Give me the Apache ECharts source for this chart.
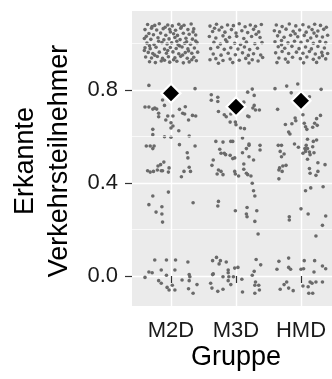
<!DOCTYPE html>
<html><head><meta charset="utf-8">
<script src="https://cdn.jsdelivr.net/npm/echarts@6/dist/echarts.min.js"></script>
<style>html,body{margin:0;padding:0;background:#fff;}#c{width:332px;height:379px;}</style>
</head><body><div id="c"></div>
<script>
const groups = ['M2D', 'M3D', 'HMD'];
const meanValues = [0.786, 0.728, 0.754];
const yTickValues = [0, 0.4, 0.8];
const yMinorValues = [0.2, 0.6, 1.0];
const xTitle = 'Gruppe';
const yTitle = 'Erkannte\nVerkehrsteilnehmer';

// [jitter offset from group centre, value]
const m2dPoints = [
[-0.36,1.082],[-0.25,1.078],[-0.18,1.085],[-0.05,1.080],[0.02,1.076],[0.12,1.083],[0.20,1.079],[0.31,1.084],
[-0.40,1.060],[-0.30,1.066],[-0.22,1.058],[-0.12,1.064],[-0.02,1.061],[0.07,1.057],[0.15,1.066],[0.26,1.060],[0.35,1.063],
[-0.34,1.043],[-0.27,1.038],[-0.16,1.045],[-0.08,1.036],[0.04,1.042],[0.10,1.035],[0.19,1.044],[0.28,1.040],[0.38,1.037],
[-0.41,1.022],[-0.31,1.018],[-0.20,1.025],[-0.11,1.016],[-0.03,1.020],[0.06,1.026],[0.14,1.017],[0.23,1.023],[0.33,1.019],
[-0.37,1.002],[-0.26,0.996],[-0.14,1.004],[-0.06,0.998],[0.01,1.003],[0.11,0.995],[0.21,1.001],[0.30,0.997],[0.40,1.004],
[-0.40,0.982],[-0.32,0.978],[-0.23,0.984],[-0.10,0.976],[-0.01,0.983],[0.08,0.979],[0.17,0.985],[0.26,0.977],[0.36,0.981],
[-0.35,0.962],[-0.28,0.957],[-0.18,0.963],[-0.07,0.958],[0.03,0.964],[0.12,0.956],[0.22,0.961],[0.32,0.958],[0.41,0.963],
[-0.39,0.942],[-0.30,0.938],[-0.21,0.944],[-0.13,0.936],[-0.04,0.943],[0.06,0.939],[0.15,0.945],[0.25,0.937],[0.35,0.941],
[-0.33,0.922],[-0.24,0.918],[-0.15,0.925],[-0.02,0.920],[0.09,0.924],[0.19,0.917],[0.28,0.921],[0.39,0.926],
[-0.29,1.073],[-0.09,1.070],[0.16,1.072],[0.34,1.050],[-0.38,1.031],[-0.01,1.050],[0.24,1.008],[-0.19,1.010],[0.13,0.990],[-0.33,0.990],
[-0.05,0.970],[0.27,0.968],[0.38,1.011],[-0.25,0.950],[0.18,0.951],[-0.10,0.928],[0.04,0.930],[0.32,0.930],[-0.41,0.970],[0.09,1.010],
[-0.34,0.820],[0.37,0.806],[-0.13,0.757],[-0.10,0.734],[-0.40,0.727],[-0.34,0.727],[-0.28,0.718],[-0.25,0.722],[-0.22,0.718],
[-0.19,0.700],[-0.19,0.685],[-0.05,0.688],[0.03,0.688],[0.13,0.717],[0.22,0.728],[0.18,0.700],[0.21,0.697],[0.33,0.691],[0.38,0.688],
[-0.08,0.671],[0.00,0.659],[0.03,0.645],[0.00,0.637],[0.27,0.671],[0.12,0.625],[-0.28,0.631],[-0.28,0.608],[-0.10,0.599],[0.00,0.597],
[0.28,0.602],[0.13,0.565],[0.37,0.559],[-0.38,0.559],[-0.32,0.559],[-0.26,0.559],[-0.28,0.548],[0.25,0.530],[0.26,0.508],
[-0.11,0.490],[-0.16,0.479],[-0.20,0.473],[-0.03,0.465],[-0.04,0.447],[-0.36,0.453],[-0.32,0.447],[-0.27,0.450],[-0.21,0.456],
[-0.15,0.453],[-0.13,0.453],[0.28,0.468],[0.30,0.450],[0.20,0.450],[0.16,0.427],[-0.04,0.361],[-0.28,0.344],[-0.34,0.307],
[-0.14,0.298],[-0.23,0.275],[-0.14,0.267],[-0.13,0.232],[0.34,0.315],
[-0.40,-0.006],[-0.34,0.017],[-0.29,0.014],[-0.25,0.069],[-0.19,-0.020],[-0.15,-0.031],[-0.15,0.026],[-0.07,0.069],[-0.07,0.003],
[-0.06,-0.049],[-0.03,-0.060],[0.02,-0.040],[0.06,0.026],[0.07,0.069],[0.06,-0.060],[0.17,-0.017],[0.26,0.060],[0.28,0.006],
[0.29,-0.003],[0.28,-0.020],[0.27,-0.055],[0.34,-0.074],[0.40,-0.037]
];
const m3dPoints = [
[-0.40,1.075],[-0.30,1.083],[-0.22,1.070],[-0.13,1.080],[-0.04,1.077],[0.05,1.085],[0.14,1.072],[0.22,1.080],[0.30,1.074],[0.39,1.082],
[-0.36,1.052],[-0.26,1.058],[-0.17,1.049],[-0.07,1.060],[0.09,1.055],[0.18,1.047],[0.27,1.061],[0.35,1.050],
[-0.41,1.030],[-0.31,1.024],[-0.20,1.033],[-0.10,1.027],[0.01,1.031],[0.12,1.022],[0.24,1.030],[0.37,1.026],
[-0.34,1.005],[-0.24,0.998],[-0.14,1.008],[-0.02,1.001],[0.07,0.996],[0.16,1.006],[0.29,0.999],[0.40,1.004],
[-0.39,0.978],[-0.28,0.984],[-0.18,0.975],[-0.08,0.982],[0.03,0.976],[0.13,0.985],[0.21,0.974],[0.33,0.980],
[-0.35,0.955],[-0.23,0.950],[-0.12,0.958],[-0.01,0.952],[0.10,0.960],[0.19,0.949],[0.27,0.956],[0.38,0.951],
[-0.40,0.930],[-0.31,0.935],[-0.20,0.927],[-0.09,0.933],[0.05,0.928],[0.15,0.936],[0.25,0.930],[0.34,0.925],
[-0.27,0.915],[-0.05,0.918],[0.20,0.916],[0.41,0.940],[-0.16,1.016],[0.31,1.040],[-0.33,1.066],[0.00,1.045],
[-0.38,0.780],[-0.38,0.756],[-0.28,0.769],[-0.28,0.751],[0.18,0.791],[0.25,0.804],[0.28,0.777],[0.12,0.748],[0.28,0.734],
[0.26,0.723],[0.30,0.714],[0.36,0.714],[-0.27,0.708],[-0.18,0.694],[-0.15,0.685],[-0.08,0.697],[0.18,0.688],[0.20,0.685],
[-0.09,0.662],[-0.01,0.662],[0.00,0.651],[0.07,0.637],[0.13,0.634],[0.10,0.594],[-0.31,0.579],[-0.20,0.576],[-0.08,0.579],
[-0.05,0.579],[-0.25,0.545],[-0.23,0.528],[-0.18,0.528],[-0.16,0.522],[-0.09,0.519],[-0.02,0.508],[-0.05,0.505],[0.20,0.568],
[0.20,0.562],[0.16,0.548],[0.37,0.562],[0.37,0.542],[0.10,0.530],[0.20,0.513],[0.27,0.499],[-0.35,0.499],[-0.37,0.476],
[-0.27,0.456],[-0.23,0.450],[-0.29,0.439],[-0.20,0.436],[-0.02,0.450],[-0.01,0.439],[0.04,0.430],[0.12,0.482],[0.12,0.459],
[0.16,0.442],[0.18,0.436],[0.23,0.430],[0.25,0.399],[0.27,0.367],[0.29,0.344],[-0.27,0.321],[-0.28,0.301],[-0.01,0.281],
[0.17,0.295],[0.16,0.267],[0.17,0.255],[0.32,0.281],[0.29,0.235],[0.34,0.181],
[-0.36,0.066],[-0.30,0.080],[-0.26,0.052],[-0.24,0.066],[-0.15,0.060],[-0.35,0.009],[-0.36,0.006],[-0.39,-0.031],[-0.37,-0.052],
[-0.28,-0.066],[-0.20,-0.057],[-0.20,-0.003],[-0.12,0.026],[-0.12,0.014],[-0.11,-0.003],[-0.12,-0.020],[-0.08,-0.037],[-0.02,0.034],
[0.03,0.037],[-0.04,-0.003],[0.10,-0.069],[0.09,-0.014],[0.25,0.003],[0.28,0.020],[0.31,0.071],[0.38,0.048],[0.30,-0.026],
[0.29,-0.040],[0.35,-0.040],[0.36,-0.060],[0.29,-0.074]
];
const hmdPoints = [
[-0.38,1.080],[-0.29,1.073],[-0.18,1.084],[-0.08,1.076],[0.03,1.081],[0.12,1.071],[0.21,1.083],[0.30,1.078],[0.39,1.070],
[-0.41,1.055],[-0.33,1.050],[-0.23,1.062],[-0.12,1.053],[-0.02,1.058],[0.08,1.049],[0.17,1.060],[0.26,1.054],[0.35,1.061],
[-0.36,1.033],[-0.26,1.027],[-0.16,1.036],[-0.05,1.029],[0.05,1.035],[0.15,1.024],[0.24,1.032],[0.33,1.028],[0.41,1.036],
[-0.40,1.008],[-0.30,1.013],[-0.20,1.003],[-0.10,1.010],[0.00,1.005],[0.10,1.012],[0.19,1.001],[0.29,1.009],[0.38,1.004],
[-0.35,0.986],[-0.25,0.980],[-0.14,0.988],[-0.03,0.978],[0.07,0.985],[0.16,0.977],[0.26,0.987],[0.36,0.981],
[-0.39,0.960],[-0.29,0.966],[-0.19,0.957],[-0.07,0.963],[0.03,0.958],[0.13,0.966],[0.22,0.955],[0.32,0.962],[0.41,0.957],
[-0.34,0.938],[-0.24,0.933],[-0.13,0.941],[-0.01,0.935],[0.09,0.942],[0.19,0.932],[0.28,0.939],[0.38,0.934],
[-0.37,0.918],[-0.20,0.920],[0.04,0.917],[0.24,0.919],[-0.09,1.042],[0.20,1.045],[-0.30,0.995],[0.33,0.948],
[-0.40,0.806],[-0.22,0.817],[-0.05,0.826],[0.31,0.803],[-0.15,0.788],[0.13,0.771],[-0.36,0.717],[0.03,0.694],[-0.09,0.680],
[-0.08,0.668],[-0.24,0.652],[-0.14,0.655],[0.05,0.657],[0.07,0.642],[0.09,0.631],[0.18,0.640],[0.21,0.657],[0.24,0.677],
[0.30,0.691],[0.25,0.648],[-0.19,0.619],[-0.17,0.611],[-0.35,0.562],[-0.30,0.562],[-0.10,0.568],[-0.04,0.554],[0.10,0.588],
[0.08,0.562],[0.06,0.548],[0.10,0.548],[0.07,0.536],[0.03,0.528],[0.19,0.579],[0.18,0.556],[0.24,0.585],[0.13,0.533],
[0.14,0.522],[0.20,0.530],[-0.32,0.536],[-0.26,0.525],[-0.30,0.513],[0.10,0.502],[0.26,0.487],[-0.33,0.465],[-0.28,0.473],
[-0.23,0.476],[-0.34,0.456],[-0.29,0.450],[0.13,0.462],[0.14,0.442],[0.26,0.450],[0.23,0.433],[0.37,0.479],[-0.34,0.418],
[0.07,0.367],[0.15,0.379],[0.34,0.384],[0.00,0.289],[0.11,0.267],[-0.18,0.255],[-0.18,0.241],[0.38,0.258],[0.33,0.218],[0.23,0.172],
[-0.37,0.029],[-0.34,0.063],[-0.32,-0.057],[-0.26,-0.037],[-0.22,-0.026],[-0.19,0.077],[-0.19,0.037],[-0.16,0.029],[-0.19,-0.052],
[-0.12,-0.063],[0.00,0.029],[0.04,0.031],[0.05,0.066],[0.03,-0.043],[0.11,-0.046],[0.12,-0.074],[0.14,-0.026],[0.17,-0.031],
[0.18,-0.074],[0.20,0.017],[0.21,0.066],[0.23,-0.026],[0.33,0.043],[0.38,0.031],[0.33,-0.026]
];

const groupPoints = [m2dPoints, m3dPoints, hmdPoints];
const pointData = [];
groupPoints.forEach((pts, gi) => pts.forEach(p => pointData.push([gi + 1 + p[0], p[1]])));
const meanData = meanValues.map((v, i) => [i + 1, v]);

const FONT = '"Liberation Sans", Arial, Helvetica, sans-serif';
const chart = echarts.init(document.getElementById('c'), null, {renderer: 'canvas'});
chart.setOption({
  animation: false,
  backgroundColor: '#ffffff',
  grid: {left: 132, top: 11, right: 0, height: 295, backgroundColor: '#ebebeb', show: true, borderWidth: 0},
  xAxis: {
    type: 'value', min: 0.4, max: 3.477,
    axisLine: {show: false},
    axisTick: {show: true, length: 7, customValues: [1, 2, 3], lineStyle: {color: '#333333', width: 1.2}},
    axisLabel: {show: true, customValues: [1, 2, 3], formatter: v => groups[Math.round(v) - 1],
      fontFamily: 'Liberation Sans', fontSize: 22, color: '#1a1a1a', margin: 14},
    splitLine: {show: true, lineStyle: {color: '#ffffff', width: 1.4}}
  },
  yAxis: {
    type: 'value', min: -0.129, max: 1.140,
    axisLine: {show: false},
    axisTick: {show: true, length: 7, customValues: yTickValues, lineStyle: {color: '#333333', width: 1.2}},
    axisLabel: {show: true, customValues: yTickValues, formatter: v => v.toFixed(1),
      fontFamily: 'Liberation Sans', fontSize: 22, color: '#1a1a1a', margin: 14},
    splitLine: {show: true, lineStyle: {color: '#ffffff', width: 1.4}}
  },
  graphic: [
    {type: 'text', x: 43, y: 161, rotation: Math.PI / 2,
      style: {text: yTitle, font: '27px ' + FONT, fill: '#000', align: 'center', verticalAlign: 'middle', lineHeight: 34}},
    {type: 'text', x: 236, y: 358,
      style: {text: xTitle, font: '27px ' + FONT, fill: '#000', align: 'center', verticalAlign: 'middle'}}
  ],
  series: [
    {type: 'line', data: [], z: 1, silent: true,
      markLine: {silent: true, symbol: 'none', label: {show: false}, animation: false,
        lineStyle: {color: '#ffffff', width: 0.7, type: 'solid'},
        data: yMinorValues.map(v => ({yAxis: v}))}},
    {type: 'scatter', data: pointData, symbol: 'circle', symbolSize: 3.6, z: 2,
      itemStyle: {color: '#6a6a6a', opacity: 1}},
    {type: 'scatter', data: meanData, symbol: 'diamond', symbolSize: 19, z: 3,
      itemStyle: {color: '#000000', borderColor: '#ffffff', borderWidth: 2.2, opacity: 1}}
  ]
});
</script></body></html>
